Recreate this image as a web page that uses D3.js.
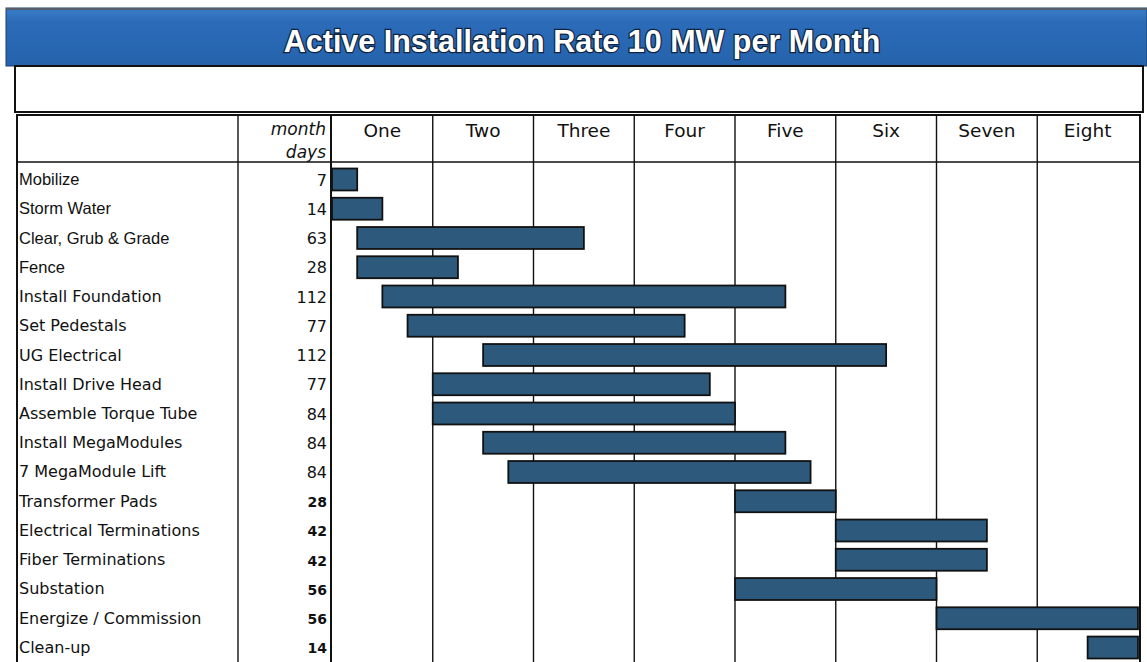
<!DOCTYPE html>
<html><head><meta charset="utf-8">
<script src="https://cdn.jsdelivr.net/npm/d3@7"></script>
<style>body{margin:0;background:#fff;}svg{display:block;}</style>
</head><body>
<svg id="c" width="1147" height="662"></svg>
<script>
const titleText = "Active Installation Rate 10 MW per Month";
const months = ["One","Two","Three","Four","Five","Six","Seven","Eight"];
const tasks = ["Mobilize","Storm Water","Clear, Grub & Grade","Fence","Install Foundation","Set Pedestals","UG Electrical","Install Drive Head","Assemble Torque Tube","Install MegaModules","7 MegaModule Lift","Transformer Pads","Electrical Terminations","Fiber Terminations","Substation","Energize / Commission","Clean-up"];
const startDays = [0,0,7,7,14,21,42,28,28,42,49,112,140,140,112,168,210];
const durations = [7,14,63,28,112,77,112,77,84,84,84,28,42,42,56,56,14];
const daysPerMonth = 28;

const svg = d3.select("#c");
const defs = svg.append("defs");
const g1 = defs.append("linearGradient").attr("id","tg").attr("x1",0).attr("y1",0).attr("x2",0).attr("y2",1);
g1.append("stop").attr("offset","0%").attr("stop-color","#3b7dc8");
g1.append("stop").attr("offset","25%").attr("stop-color","#2b6bb8");
g1.append("stop").attr("offset","100%").attr("stop-color","#2563ac");

// Title band
svg.append("rect").attr("x",6).attr("y",8).attr("width",1141).attr("height",58).attr("fill","url(#tg)")
  .attr("stroke","#1a3f6e").attr("stroke-width",1);
svg.append("rect").attr("x",6).attr("y",8).attr("width",1141).attr("height",2).attr("fill","#555e6a");
svg.append("text").attr("x",582).attr("y",52).attr("text-anchor","middle")
  .attr("font-family","Liberation Sans, Arial, sans-serif").attr("font-weight","bold").attr("font-size",30.5)
  .attr("fill","#fff").attr("stroke","#10243f").attr("stroke-width",2.5).attr("paint-order","stroke")
  .text(titleText);

// White subtitle box
svg.append("rect").attr("x",15).attr("y",66).attr("width",1128).attr("height",46)
  .attr("fill","#fff").attr("stroke","#111").attr("stroke-width",2);

// Table geometry
const tLeft = 17, tRight = 1140, tTop = 115, hdrBottom = 162, tBottom = 662;
const colLabel = 238, colDays = 331;
const x = d3.scaleLinear().domain([0, months.length*daysPerMonth]).range([332, 1138]);
const y = d3.scaleBand().domain(tasks).range([165, 662]).paddingInner(0.25).paddingOuter(0.12);
const yRow = d3.scaleBand().domain(tasks).range([165, 662]);

svg.append("rect").attr("x",tLeft).attr("y",tTop).attr("width",tRight-tLeft).attr("height",tBottom-tTop+5)
  .attr("fill","#fff").attr("stroke","#111").attr("stroke-width",2);
svg.append("line").attr("x1",tLeft).attr("x2",tRight).attr("y1",hdrBottom).attr("y2",hdrBottom).attr("stroke","#111").attr("stroke-width",1.6);
svg.append("line").attr("x1",colLabel).attr("x2",colLabel).attr("y1",tTop).attr("y2",tBottom).attr("stroke","#111").attr("stroke-width",1.4);
svg.append("line").attr("x1",colDays).attr("x2",colDays).attr("y1",tTop).attr("y2",tBottom).attr("stroke","#111").attr("stroke-width",2);

// Month grid lines
const ticks = d3.range(1, months.length).map(i => i*daysPerMonth);
svg.selectAll(".grid").data(ticks).join("line")
  .attr("x1",d=>x(d)).attr("x2",d=>x(d)).attr("y1",tTop).attr("y2",tBottom)
  .attr("stroke","#111").attr("stroke-width",1.4);

// Month headers
svg.selectAll(".mh").data(months).join("text")
  .attr("x",(d,i)=>x(i*daysPerMonth + daysPerMonth/2)).attr("y",137).attr("text-anchor","middle")
  .attr("font-family","DejaVu Sans, Verdana, sans-serif").attr("font-size",18.5).attr("fill","#111").text(d=>d);

svg.append("text").attr("x",326).attr("y",135).attr("text-anchor","end").attr("font-style","italic")
  .attr("font-family","DejaVu Sans, Verdana, sans-serif").attr("font-size",17).attr("fill","#111").text("month");
svg.append("text").attr("x",326).attr("y",158).attr("text-anchor","end").attr("font-style","italic")
  .attr("font-family","DejaVu Sans, Verdana, sans-serif").attr("font-size",17).attr("fill","#111").text("days");

// Labels
svg.selectAll(".lbl").data(tasks).join("text")
  .attr("x",19).attr("y",d=>yRow(d)+yRow.bandwidth()/2+5.5)
  .attr("font-family",(d,i)=> i<4 ? "Liberation Sans, Arial, sans-serif" : "DejaVu Sans, Verdana, sans-serif")
  .attr("font-size",(d,i)=> i<4 ? 16.5 : 16).attr("fill","#111").text(d=>d);
svg.selectAll(".dur").data(tasks).join("text")
  .attr("x",327).attr("y",d=>yRow(d)+yRow.bandwidth()/2+6).attr("text-anchor","end").attr("font-family","DejaVu Sans, Verdana, sans-serif")
  .attr("font-size",(d,i)=> i<11 ? 16 : 14).attr("font-weight",(d,i)=> i<11 ? "normal" : "bold")
  .attr("fill","#111").text((d,i)=>durations[i]);

// Bars
svg.selectAll(".bar").data(tasks).join("rect")
  .attr("x",(d,i)=>x(startDays[i])).attr("y",d=>y(d))
  .attr("width",(d,i)=>x(startDays[i]+durations[i])-x(startDays[i])).attr("height",y.bandwidth())
  .attr("fill","#2d5a7c").attr("stroke","#111").attr("stroke-width",1.8);
</script>
</body></html>
